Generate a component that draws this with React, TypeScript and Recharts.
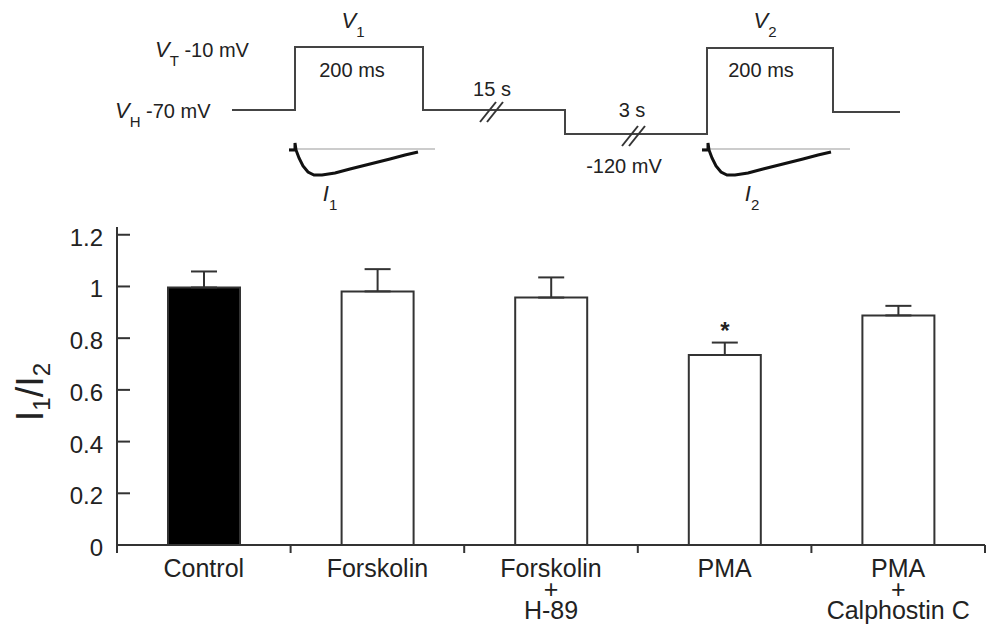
import React from 'react';
import { ComposedChart, Line, Scatter, XAxis, YAxis, BarChart, Bar, ErrorBar, LabelList, Cell } from 'recharts';

const FONT = '"Liberation Sans", Arial, Helvetica, sans-serif';
const INK = '#333333';
const TEXT = '#222222';

// --- protocol schematic, in schematic units (t = time axis, v = level, drawn downward)
const protocolSteps = [
  { t: 232, v: 110 },
  { t: 295, v: 47 },
  { t: 423, v: 110 },
  { t: 565, v: 134 },
  { t: 707, v: 48 },
  { t: 833, v: 112 },
  { t: 900, v: 112 },
];

const trace1Zero = [{ t: 289, v: 149 }, { t: 435, v: 149 }];
const trace2Zero = [{ t: 702, v: 149 }, { t: 850, v: 149 }];

const trace1 = [
  { t: 289, v: 150 }, { t: 295, v: 150 }, { t: 295, v: 143 }, { t: 296, v: 150 },
  { t: 299, v: 158 }, { t: 303, v: 166 }, { t: 308, v: 172 }, { t: 314, v: 175 },
  { t: 322, v: 175 }, { t: 335, v: 173 }, { t: 350, v: 169 }, { t: 370, v: 164 },
  { t: 390, v: 159 }, { t: 405, v: 155 }, { t: 418, v: 152 },
];

const trace2 = [
  { t: 702, v: 150 }, { t: 708, v: 150 }, { t: 708, v: 143 }, { t: 709, v: 150 },
  { t: 712, v: 158 }, { t: 716, v: 166 }, { t: 721, v: 172 }, { t: 727, v: 175 },
  { t: 735, v: 175 }, { t: 748, v: 173 }, { t: 763, v: 169 }, { t: 783, v: 164 },
  { t: 803, v: 159 }, { t: 818, v: 155 }, { t: 831, v: 152 },
];

const breakMarks = [{ t: 494, v: 112 }, { t: 636, v: 136 }];

const protocolLabels = [
  { t: 353, v: 28, main: 'V', sub: '1', rest: '', anchor: 'middle' },
  { t: 155, v: 57, main: 'V', sub: 'T', rest: ' -10 mV', anchor: 'start' },
  { t: 352, v: 77, main: '', sub: '', rest: '200 ms', anchor: 'middle' },
  { t: 115, v: 118, main: 'V', sub: 'H', rest: ' -70 mV', anchor: 'start' },
  { t: 492, v: 96, main: '', sub: '', rest: '15 s', anchor: 'middle' },
  { t: 632, v: 117, main: '', sub: '', rest: '3 s', anchor: 'middle' },
  { t: 624, v: 173, main: '', sub: '', rest: '-120 mV', anchor: 'middle' },
  { t: 765, v: 28, main: 'V', sub: '2', rest: '', anchor: 'middle' },
  { t: 761, v: 77, main: '', sub: '', rest: '200 ms', anchor: 'middle' },
  { t: 330, v: 201, main: 'I', sub: '1', rest: '', anchor: 'middle' },
  { t: 752, v: 201, main: 'I', sub: '2', rest: '', anchor: 'middle' },
];

// --- bar data
const groups = ['Control', 'Forskolin', 'Forskolin + H-89', 'PMA', 'PMA + Calphostin C'];
const ratio = [0.996, 0.981, 0.957, 0.735, 0.888];
const sem = [0.062, 0.086, 0.078, 0.048, 0.037];
const significant = ['', '', '', '*', ''];
const yTicks = [0, 0.2, 0.4, 0.6, 0.8, 1, 1.2];

const barData = groups.map((name, i) => ({
  name,
  ratio: ratio[i],
  err: [0, sem[i]],
  sig: significant[i],
}));

const BreakMark = (props: any) => {
  const { cx, cy } = props;
  return (
    <g stroke={INK} strokeWidth={2}>
      <line x1={cx - 14} y1={cy + 10} x2={cx + 2} y2={cy - 10} />
      <line x1={cx - 7} y1={cy + 10} x2={cx + 9} y2={cy - 10} />
    </g>
  );
};

const ProtocolText = (props: any) => {
  const { cx, cy, payload } = props;
  return (
    <text x={cx} y={cy} textAnchor={payload.anchor} fontSize={20} fill={TEXT} fontFamily={FONT}>
      {payload.main && (
        <tspan fontStyle="italic" fontSize={22}>{payload.main}</tspan>
      )}
      {payload.sub && (
        <tspan dy={9} fontSize={15}>{payload.sub}</tspan>
      )}
      {payload.rest && <tspan dy={payload.sub ? -9 : 0}>{payload.rest}</tspan>}
    </text>
  );
};

const RatioTick = (props: any) => {
  const { x, y, payload } = props;
  return (
    <g>
      <line x1={x} y1={y} x2={x + 13} y2={y} stroke={INK} strokeWidth={2} />
      <text x={x - 14} y={y + 11} textAnchor="end" fontSize={24} fill={TEXT} fontFamily={FONT}>
        {payload.value}
      </text>
    </g>
  );
};

const CategoryTick = (props: any) => {
  const { x, y, payload, index } = props;
  const half = payload.offset || 86.8;
  const parts = String(payload.value).split(' + ');
  const lines = parts.length > 1 ? [parts[0], '+', parts[1]] : parts;
  return (
    <g>
      <line x1={x - half} y1={y} x2={x - half} y2={y + 8} stroke={INK} strokeWidth={2} />
      {index === groups.length - 1 && (
        <line x1={x + half} y1={y} x2={x + half} y2={y + 8} stroke={INK} strokeWidth={2} />
      )}
      <text textAnchor="middle" fontSize={25} fill={TEXT} fontFamily={FONT}>
        {lines.map((l, i) => (
          <tspan key={i} x={x} y={y + 32 + 21 * i}>{l}</tspan>
        ))}
      </text>
    </g>
  );
};

const RatioLabel = (props: any) => {
  const { viewBox } = props;
  const cx = viewBox.x + 43;
  const cy = viewBox.y + viewBox.height / 2 + 6;
  return (
    <text
      x={cx}
      y={cy}
      transform={`rotate(-90, ${cx}, ${cy})`}
      textAnchor="middle"
      fontSize={38}
      fill={TEXT}
      fontFamily={FONT}
    >
      <tspan>I</tspan>
      <tspan dy={7} fontSize={24}>1</tspan>
      <tspan dy={-7}>/I</tspan>
      <tspan dy={7} fontSize={24}>2</tspan>
    </text>
  );
};

const StarLabel = (props: any) => {
  const { x, y, width, value } = props;
  if (!value) return null;
  return (
    <text x={x + width / 2} y={y - 16} textAnchor="middle" fontSize={24} fontWeight="bold" fill={TEXT} fontFamily={FONT}>
      {value}
    </text>
  );
};

export default function App() {
  return (
    <div style={{ position: 'absolute', left: 0, top: 0, width: 1000, height: 638, background: '#fff', fontFamily: FONT }}>
      <div style={{ position: 'absolute', left: 0, top: 0 }}>
        <ComposedChart width={1000} height={220} margin={{ top: 0, right: 0, bottom: 0, left: 0 }}>
          <XAxis type="number" dataKey="t" domain={[0, 1000]} allowDataOverflow hide />
          <YAxis type="number" domain={[0, 220]} reversed allowDataOverflow hide />
          <Line data={protocolSteps} dataKey="v" type="stepAfter" stroke="#444" strokeWidth={2} dot={false} isAnimationActive={false} />
          <Line data={trace1Zero} dataKey="v" type="linear" stroke="#999" strokeWidth={1} dot={false} isAnimationActive={false} />
          <Line data={trace2Zero} dataKey="v" type="linear" stroke="#999" strokeWidth={1} dot={false} isAnimationActive={false} />
          <Line data={trace1} dataKey="v" type="linear" stroke="#111" strokeWidth={3} dot={false} isAnimationActive={false} />
          <Line data={trace2} dataKey="v" type="linear" stroke="#111" strokeWidth={3} dot={false} isAnimationActive={false} />
          <Scatter data={breakMarks} dataKey="v" shape={BreakMark} isAnimationActive={false} />
          <Scatter data={protocolLabels} dataKey="v" shape={ProtocolText} isAnimationActive={false} />
        </ComposedChart>
      </div>
      <div style={{ position: 'absolute', left: 0, top: 220 }}>
        <BarChart width={1000} height={418} data={barData} margin={{ top: 7, right: 15, bottom: 0, left: 0 }}>
          <XAxis
            dataKey="name"
            height={93}
            axisLine={{ stroke: INK, strokeWidth: 2 }}
            tickLine={false}
            tickSize={0}
            tickMargin={0}
            interval={0}
            tick={<CategoryTick />}
          />
          <YAxis
            width={117}
            domain={[0, 1.23]}
            ticks={yTicks}
            allowDataOverflow
            axisLine={{ stroke: INK, strokeWidth: 2 }}
            tickLine={false}
            tickSize={0}
            tickMargin={0}
            tick={<RatioTick />}
            label={<RatioLabel />}
          />
          <Bar dataKey="ratio" barSize={72} stroke={INK} strokeWidth={2} isAnimationActive={false}>
            {barData.map((d) => (
              <Cell key={d.name} fill={d.name === 'Control' ? '#000' : '#fff'} />
            ))}
            <ErrorBar dataKey="err" width={13} stroke={INK} strokeWidth={2} direction="y" isAnimationActive={false} />
            <LabelList dataKey="sig" content={<StarLabel />} />
          </Bar>
        </BarChart>
      </div>
    </div>
  );
}
